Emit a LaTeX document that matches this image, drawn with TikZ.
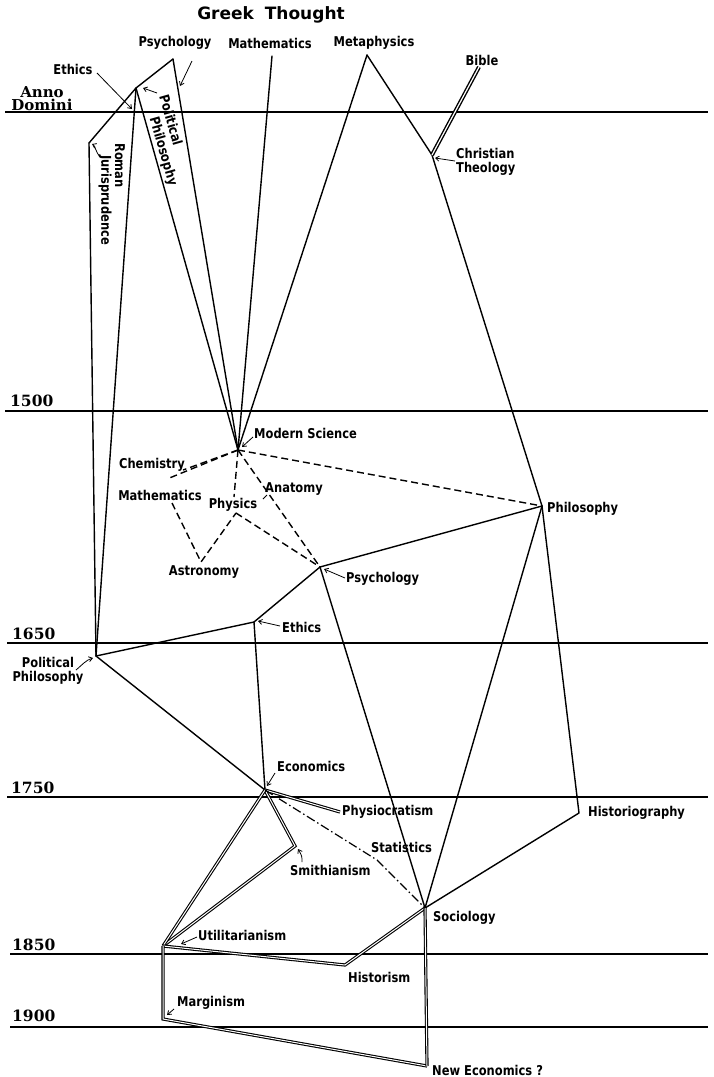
\documentclass[tikz,border=0pt]{standalone}
\usepackage{fontspec}
\usetikzlibrary{arrows.meta}
\newfontfamily\lab{DejaVu Sans}[FakeStretch=0.85]
\newfontfamily\gth{DejaVu Sans}
\newfontfamily\yrf{DejaVu Serif}
\begin{document}
\begin{tikzpicture}[x=1pt,y=-1pt,
  ln/.style={line width=1.4pt, line join=round, line cap=round},
  hl/.style={line width=1.2pt},
  dsh/.style={line width=1.4pt, dash pattern=on 7pt off 4pt},
  dbl/.style={double, line width=1.1pt, double distance=1pt, line join=miter},
  dshdot/.style={line width=1.2pt, dash pattern=on 9pt off 3pt on 1.5pt off 3pt},
  lbl/.style={font=\lab\bfseries\fontsize{13.5}{14}\selectfont, inner sep=0pt},
  yr/.style={font=\yrf\bfseries\fontsize{15.5}{15.5}\selectfont, anchor=west, inner sep=0pt},
  arr/.style={line width=0.8pt, -{Straight Barb[length=3.5pt,width=5pt]}}]
\useasboundingbox (0,0) rectangle (713,1077);
\fill[white] (0,0) rectangle (713,1077);

% time lines
\draw[hl] (5,112) -- (708,112);
\draw[hl] (5,411) -- (708,411);
\draw[hl] (7,643) -- (708,643);
\draw[hl] (7,797) -- (708,797);
\draw[hl] (10,954) -- (708,954);
\draw[hl] (10,1027) -- (708,1027);

\node[yr, font=\yrf\bfseries\fontsize{15}{13}\selectfont, align=center, anchor=center] (ad) at (42,99) {Anno\\Domini};
\node[yr] (y1500) at (10,401) {1500};
\node[yr] (y1650) at (12,634) {1650};
\node[yr] (y1750) at (11,788) {1750};
\node[yr] (y1850) at (12,945) {1850};
\node[yr] (y1900) at (12,1016) {1900};

% points
\coordinate (ps) at (173,59);
\coordinate (pt) at (136,88);
\coordinate (rj) at (89,143);
\coordinate (ma) at (272,56);
\coordinate (mp) at (367,55);
\coordinate (bi) at (479,67);
\coordinate (ct) at (432,155);
\coordinate (ms) at (238,450);
\coordinate (ph) at (542,506);
\coordinate (pp) at (96,656);
\coordinate (et) at (254,622);
\coordinate (py) at (320,567);
\coordinate (ec) at (265,790);
\coordinate (hi) at (579,813);
\coordinate (so) at (425,908);
\coordinate (st) at (377,860);
\coordinate (pc) at (340,812);
\coordinate (sm) at (295,846);
\coordinate (ut) at (163,946);
\coordinate (hs) at (345,965);
\coordinate (mg) at (163,1019);
\coordinate (ne) at (427,1066);
\coordinate (ch) at (183,470);
\coordinate (mt) at (167,479);
\coordinate (mtb) at (172,503);
\coordinate (physT) at (234,497);
\coordinate (physB) at (236,513);
\coordinate (as) at (201,562);

% solid lines
\draw[ln] (rj) -- (pt) -- (ps);
\draw[ln] (ps) -- (ms);
\draw[ln] (pt) -- (ms);
\draw[ln] (pt) -- (pp);
\draw[ln] (rj) -- (pp);
\draw[ln] (ma) -- (ms);
\draw[ln] (mp) -- (ms);
\draw[ln] (mp) -- (ct) -- (ph);
\draw[ln] (ph) -- (so);
\draw[ln] (ph) -- (hi) -- (so);
\draw[ln] (pp) -- (et) -- (py) -- (ph);
\draw[ln] (py) -- (so);
\draw[ln] (et) -- (ec);
\draw[ln] (pp) -- (ec);

% double lines
\draw[dbl, line width=1.4pt, double distance=1.2pt] (bi) -- (ct);
\draw[dbl] (ec) -- (pc);
\draw[dbl] (ec) -- (sm) -- (ut);
\draw[dbl] (ec) -- (ut);
\draw[dbl] (ut) -- (hs) -- (so);
\draw[dbl] (ut) -- (mg) -- (ne);
\draw[dbl] (so) -- (ne);

% dash-dot
\draw[dshdot] (ec) -- (st) -- (so);

% dashed
\draw[dsh] (ms) -- (ch);
\draw[dsh] (ms) -- (mt);
\draw[dsh] (ms) -- (physT);
\draw[dsh] (mtb) -- (as) -- (physB);
\draw[dsh] (physB) -- (py);
\draw[dsh] (ms) -- (py);
\draw[dsh] (ms) -- (ph);

% labels
\node[inner sep=0pt, font=\gth\bfseries\fontsize{17}{17}\selectfont] (greek) at (271,15) {Greek\hspace{5pt} Thought};
\node[lbl] (lpsy) at (175,43) {Psychology};
\node[lbl] (lmat) at (270,43) {Mathematics};
\node[lbl] (lmet) at (374,43) {Metaphysics};
\node[lbl] (leth) at (73,69) {Ethics};
\node[lbl] (lbib) at (482,60) {Bible};
\node[lbl, anchor=west, align=left] (lct) at (456,162) {Christian\\Theology};
\node[lbl, rotate=-74, anchor=west] (lpol) at (164,95) {Political};
\node[lbl, rotate=-74, anchor=west] (lpol2) at (153,117) {Philosophy};
\node[lbl, rotate=-90, anchor=west] (lrom) at (120,143) {Roman};
\node[lbl, rotate=-90, anchor=west] (ljur) at (105,155) {Jurisprudence};
\node[lbl, anchor=west] (lms) at (254,433) {Modern Science};
\node[lbl] (lche) at (152,465) {Chemistry};
\node[lbl] (lmat2) at (160,495) {Mathematics};
\node[lbl] (lphy) at (233,505) {Physics};
\node[lbl] (lana) at (294,489) {Anatomy};
\node[lbl] (last) at (204,572) {Astronomy};
\node[lbl, anchor=west] (lphil) at (547,509) {Philosophy};
\node[lbl, anchor=west] (lpsy2) at (346,579) {Psychology};
\node[lbl, anchor=west] (leth2) at (282,627) {Ethics};
\node[lbl, align=center] (lpp) at (48,671) {Political\\Philosophy};
\node[lbl, anchor=west] (lec) at (277,766) {Economics};
\node[lbl, anchor=west] (lpc) at (342,812) {Physiocratism};
\node[lbl, anchor=west] (lst) at (371,847) {Statistics};
\node[lbl, anchor=west] (lsm) at (290,870) {Smithianism};
\node[lbl, anchor=west] (lhi) at (588,813) {Historiography};
\node[lbl, anchor=west] (lso) at (433,918) {Sociology};
\node[lbl, anchor=west] (lut) at (198,935) {Utilitarianism};
\node[lbl, anchor=west] (lhs) at (348,977) {Historism};
\node[lbl, anchor=west] (lmg) at (177,1003) {Marginism};
\node[lbl, anchor=west] (lne) at (432,1070) {New Economics ?};

% leader arrows
\coordinate (a1s) at (97,73);   \coordinate (a1e) at (132,109);
\draw[arr] (a1s) -- (a1e);
\coordinate (a2s) at (192,61);  \coordinate (a2e) at (180,86);
\draw[arr] (a2s) -- (a2e);
\coordinate (a3s) at (157,93);  \coordinate (a3e) at (143,88);
\draw[arr] (a3s) -- (a3e);
\coordinate (a4s) at (101,157); \coordinate (a4e) at (92,144);
\draw[arr] (a4s) .. controls (95,153) and (96,146) .. (a4e);
\coordinate (a5s) at (455,161); \coordinate (a5e) at (435,158);
\draw[arr] (a5s) -- (a5e);
\coordinate (a6s) at (253,437); \coordinate (a6e) at (242,447);
\draw[arr] (a6s) -- (a6e);
\coordinate (a7s) at (345,578); \coordinate (a7e) at (324,569);
\draw[arr] (a7s) -- (a7e);
\coordinate (a8s) at (280,626); \coordinate (a8e) at (258,621);
\draw[arr] (a8s) -- (a8e);
\coordinate (a9s) at (76,670);  \coordinate (a9e) at (93,658);
\draw[arr] (a9s) .. controls (82,665) and (86,660) .. (a9e);
\coordinate (a10s) at (275,773); \coordinate (a10e) at (267,786);
\draw[arr] (a10s) -- (a10e);
\coordinate (a11s) at (302,862); \coordinate (a11e) at (298,849);
\draw[arr] (a11s) .. controls (302,856) .. (a11e);
\coordinate (a12s) at (197,937); \coordinate (a12e) at (181,944);
\draw[arr] (a12s) -- (a12e);
\coordinate (a13s) at (174,1009); \coordinate (a13e) at (167,1015);
\draw[arr] (a13s) -- (a13e);
\coordinate (a14s) at (267,495); \coordinate (a14e) at (263,499);
\draw[line width=0.8pt] (a14s) -- (a14e);
\end{tikzpicture}
\end{document}
